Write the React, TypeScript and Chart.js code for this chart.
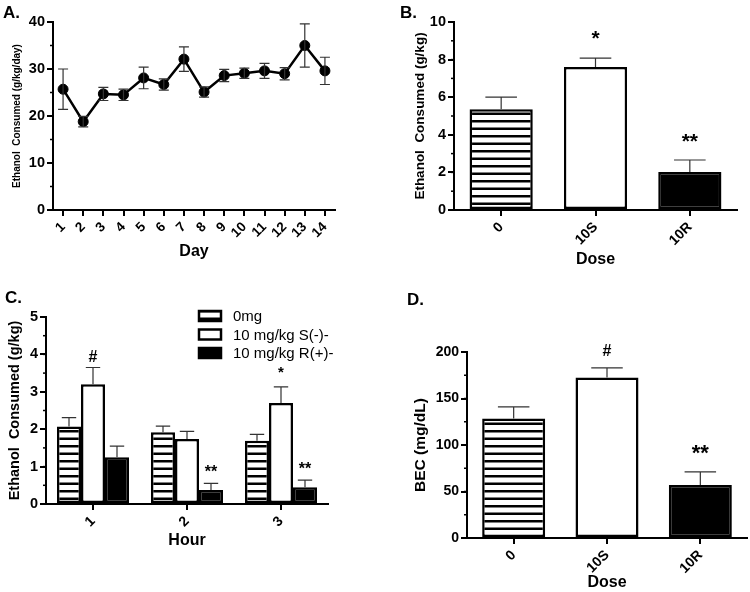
import React, { useEffect, useRef } from 'react';
import Chart from 'chart.js/auto';

const FONT = "'Liberation Sans', Arial, Helvetica, sans-serif";

// ---------- Panel A: daily intake ----------
const dayLabels = ['1', '2', '3', '4', '5', '6', '7', '8', '9', '10', '11', '12', '13', '14'];
const dailyMean = [25.7, 18.8, 24.7, 24.5, 28.1, 26.7, 32.1, 25.1, 28.6, 29.1, 29.6, 29.0, 35.0, 29.6];
const dailySem = [4.3, 1.1, 1.4, 1.2, 2.3, 1.2, 2.6, 1.1, 1.3, 1.1, 1.6, 1.3, 4.6, 2.9];

// ---------- Panel B: total intake by dose ----------
const doseLabels = ['0', '10S', '10R'];
const doseMean = [5.36, 7.6, 2.02];
const doseSem = [0.64, 0.48, 0.64];
const doseSig = ['', '*', '**'];

// ---------- Panel C: hourly intake ----------
const hourLabels = ['1', '2', '3'];
const hourSeries = ['0mg', '10 mg/kg S(-)-', '10 mg/kg R(+)-'];
const hourMean0 = [2.07, 1.92, 1.69];
const hourSem0 = [0.24, 0.16, 0.17];
const hourMeanS = [3.2, 1.74, 2.7];
const hourSemS = [0.45, 0.2, 0.43];
const hourSigS = ['#', '', '*'];
const hourMeanR = [1.25, 0.375, 0.45];
const hourSemR = [0.3, 0.175, 0.19];
const hourSigR = ['', '**', '**'];

// ---------- Panel D: BEC ----------
const becMean = [128.6, 172.5, 57.1];
const becSem = [12.4, 10.5, 14.0];
const becSig = ['', '#', '**'];

function makeHatch(): CanvasPattern | string {
  const c = document.createElement('canvas');
  c.width = 8;
  c.height = 15;
  const g = c.getContext('2d');
  if (!g) return '#fff';
  g.fillStyle = '#fff';
  g.fillRect(0, 0, 8, 15);
  g.fillStyle = '#000';
  g.fillRect(0, 0, 8, 2.5);
  g.fillRect(0, 7.5, 8, 2.5);
  const p = g.createPattern(c, 'repeat');
  return p || '#fff';
}

const errorBarPlugin = {
  id: 'errorBars',
  afterDatasetsDraw(chart: any, _args: any, opts: any) {
    const ctx = chart.ctx;
    const y = chart.scales.y;
    chart.data.datasets.forEach((ds: any, i: number) => {
      if (!ds.errors) return;
      const meta = chart.getDatasetMeta(i);
      meta.data.forEach((el: any, j: number) => {
        const v = ds.data[j];
        const e = ds.errors[j];
        const x = el.x;
        const yTop = y.getPixelForValue(v + e);
        const yBase = y.getPixelForValue(opts.both ? v - e : v);
        const cap = opts.capWidth ? opts.capWidth : el.width * opts.capRatio;
        ctx.save();
        ctx.strokeStyle = opts.color;
        ctx.lineWidth = opts.lineWidth;
        ctx.beginPath();
        ctx.moveTo(x, yBase);
        ctx.lineTo(x, yTop);
        ctx.moveTo(x - cap / 2, yTop);
        ctx.lineTo(x + cap / 2, yTop);
        if (opts.both) {
          ctx.moveTo(x - cap / 2, yBase);
          ctx.lineTo(x + cap / 2, yBase);
        }
        ctx.stroke();
        const s = ds.sig && ds.sig[j];
        if (s && opts.sig && opts.sig[s]) {
          const st = opts.sig[s];
          ctx.font = `bold ${st.size}px ${FONT}`;
          ctx.fillStyle = '#000';
          ctx.textAlign = 'center';
          ctx.textBaseline = 'alphabetic';
          const m = ctx.measureText(s);
          const mid = (m.actualBoundingBoxAscent - m.actualBoundingBoxDescent) / 2;
          ctx.fillText(s, x, yTop - st.offset + mid);
        }
        ctx.restore();
      });
    });
  },
};

const minorTickPlugin = {
  id: 'minorTicks',
  afterDraw(chart: any, _args: any, opts: any) {
    if (!opts || !opts.step) return;
    const y = chart.scales.y;
    const ctx = chart.ctx;
    const left = chart.chartArea.left;
    ctx.save();
    ctx.strokeStyle = '#000';
    ctx.lineWidth = 1.5;
    for (let v = y.min; v <= y.max + 1e-9; v += opts.step) {
      const py = y.getPixelForValue(v);
      ctx.beginPath();
      ctx.moveTo(left, py);
      ctx.lineTo(left - opts.length, py);
      ctx.stroke();
    }
    ctx.restore();
  },
};

const panelLabelPlugin = {
  id: 'panelLabel',
  afterDraw(chart: any, _args: any, opts: any) {
    if (!opts || !opts.text) return;
    const ctx = chart.ctx;
    ctx.save();
    ctx.font = `bold 17px ${FONT}`;
    ctx.fillStyle = '#000';
    ctx.textAlign = 'left';
    ctx.textBaseline = 'alphabetic';
    ctx.fillText(opts.text, opts.x, opts.y);
    ctx.restore();
  },
};

const boxLegendPlugin = {
  id: 'boxLegend',
  afterDraw(chart: any, _args: any, opts: any) {
    if (!opts || !opts.show) return;
    const ctx = chart.ctx;
    ctx.save();
    chart.data.datasets.forEach((ds: any, i: number) => {
      const cy = opts.y + i * opts.rowGap;
      ctx.fillStyle = ds.backgroundColor;
      ctx.fillRect(opts.x, cy - opts.boxH / 2, opts.boxW, opts.boxH);
      ctx.strokeStyle = '#000';
      ctx.lineWidth = 2.5;
      ctx.strokeRect(opts.x, cy - opts.boxH / 2, opts.boxW, opts.boxH);
      ctx.fillStyle = '#000';
      ctx.font = `${opts.fontSize}px ${FONT}`;
      ctx.textAlign = 'left';
      ctx.textBaseline = 'middle';
      ctx.fillText(ds.label, opts.x + opts.boxW + opts.textGap, cy + 1);
    });
    ctx.restore();
  },
};

function yAxis(o: any) {
  return {
    min: o.min,
    max: o.max,
    ticks: {
      stepSize: o.step,
      color: '#000',
      padding: 2,
      font: { family: FONT, size: o.tickSize, weight: 'bold' },
    },
    grid: { drawOnChartArea: false, drawTicks: true, tickLength: 6, color: '#000', lineWidth: 2 },
    border: { display: true, color: '#000', width: 2 },
    title: {
      display: true,
      text: o.title,
      color: '#000',
      font: { family: FONT, size: o.titleSize, weight: 'bold' },
      padding: { top: o.titlePad, bottom: 0 },
    },
    afterFit: (s: any) => {
      s.width = o.width;
    },
  };
}

function xAxis(o: any) {
  return {
    type: 'category',
    offset: true,
    ticks: {
      color: '#000',
      maxRotation: 45,
      minRotation: 45,
      autoSkip: false,
      padding: 3,
      font: { family: FONT, size: o.tickSize, weight: 'bold' },
    },
    grid: { offset: false, drawOnChartArea: false, drawTicks: true, tickLength: 6, color: '#000', lineWidth: 2 },
    border: { display: true, color: '#000', width: 2 },
    title: {
      display: true,
      text: o.title,
      color: '#000',
      font: { family: FONT, size: o.titleSize, weight: 'bold' },
      padding: { top: 0, bottom: o.titlePad },
    },
    afterFit: (s: any) => {
      s.height = o.height;
    },
  };
}

const basePlugins = [errorBarPlugin, minorTickPlugin, panelLabelPlugin, boxLegendPlugin];

function configA(): any {
  return {
    type: 'line',
    data: {
      labels: dayLabels,
      datasets: [
        {
          label: 'Ethanol',
          data: dailyMean,
          errors: dailySem,
          borderColor: '#000',
          borderWidth: 2.5,
          pointRadius: 5,
          pointBackgroundColor: '#000',
          pointBorderColor: '#000',
          pointBorderWidth: 1,
          tension: 0,
          fill: false,
        },
      ],
    },
    options: {
      responsive: false,
      animation: false,
      layout: { padding: { left: 0, top: 22, right: 40, bottom: 0 } },
      scales: {
        x: xAxis({ height: 70, title: 'Day', titleSize: 16, titlePad: 19, tickSize: 13.5 }),
        y: yAxis({ min: 0, max: 40, step: 10, width: 53, title: 'Ethanol  Consumed (g/kg/day)', titleSize: 10, titlePad: 11, tickSize: 14.5 }),
      },
      plugins: {
        legend: { display: false },
        tooltip: { enabled: false },
        errorBars: { both: true, capWidth: 10, color: '#333', lineWidth: 1.2 },
        minorTicks: { step: 5, length: 3 },
        panelLabel: { text: 'A.', x: 3, y: 18 },
      },
    },
    plugins: basePlugins,
  };
}

function configB(): any {
  const hatch = makeHatch();
  return {
    type: 'bar',
    data: {
      labels: doseLabels,
      datasets: [
        {
          label: 'Ethanol',
          data: doseMean,
          errors: doseSem,
          sig: doseSig,
          backgroundColor: [hatch, '#fff', '#000'],
          borderColor: '#000',
          borderWidth: 2.5,
          borderSkipped: false,
          barPercentage: 0.67,
          categoryPercentage: 1,
        },
      ],
    },
    options: {
      responsive: false,
      animation: false,
      layout: { padding: { left: 0, top: 22, right: 13, bottom: 0 } },
      scales: {
        x: xAxis({ height: 70, title: 'Dose', titleSize: 16, titlePad: 11, tickSize: 14 }),
        y: yAxis({ min: 0, max: 10, step: 2, width: 79, title: 'Ethanol  Consumed (g/kg)', titleSize: 13.5, titlePad: 37, tickSize: 14.5 }),
      },
      plugins: {
        legend: { display: false },
        tooltip: { enabled: false },
        errorBars: {
          both: false,
          capRatio: 0.5,
          color: '#333',
          lineWidth: 1.2,
          sig: { '*': { size: 21, offset: 23 }, '**': { size: 21, offset: 22 } },
        },
        minorTicks: { step: 1, length: 3 },
        panelLabel: { text: 'B.', x: 25, y: 18 },
      },
    },
    plugins: basePlugins,
  };
}

function configC(): any {
  const hatch = makeHatch();
  const common = {
    borderColor: '#000',
    borderWidth: 2.5,
    borderSkipped: false,
    barPercentage: 1,
    categoryPercentage: 0.766,
  };
  return {
    type: 'bar',
    data: {
      labels: hourLabels,
      datasets: [
        { ...common, label: hourSeries[0], data: hourMean0, errors: hourSem0, backgroundColor: hatch },
        { ...common, label: hourSeries[1], data: hourMeanS, errors: hourSemS, sig: hourSigS, backgroundColor: '#fff' },
        { ...common, label: hourSeries[2], data: hourMeanR, errors: hourSemR, sig: hourSigR, backgroundColor: '#000' },
      ],
    },
    options: {
      responsive: false,
      animation: false,
      layout: { padding: { left: 0, top: 37, right: 47, bottom: 0 } },
      scales: {
        x: xAxis({ height: 88, title: 'Hour', titleSize: 16, titlePad: 42, tickSize: 14 }),
        y: yAxis({ min: 0, max: 5, step: 1, width: 46, title: 'Ethanol  Consumed (g/kg)', titleSize: 14.5, titlePad: 6, tickSize: 14.5 }),
      },
      plugins: {
        legend: { display: false },
        tooltip: { enabled: false },
        errorBars: {
          both: false,
          capRatio: 0.6,
          color: '#333',
          lineWidth: 1.2,
          sig: { '#': { size: 16, offset: 11 }, '*': { size: 15, offset: 17 }, '**': { size: 16, offset: 15 } },
        },
        minorTicks: { step: 0.5, length: 3 },
        panelLabel: { text: 'C.', x: 5, y: 23 },
        boxLegend: { show: true, x: 199, y: 36, rowGap: 18.5, boxW: 22, boxH: 10, textGap: 12, fontSize: 15 },
      },
    },
    plugins: basePlugins,
  };
}

function configD(): any {
  const hatch = makeHatch();
  return {
    type: 'bar',
    data: {
      labels: doseLabels,
      datasets: [
        {
          label: 'BEC',
          data: becMean,
          errors: becSem,
          sig: becSig,
          backgroundColor: [hatch, '#fff', '#000'],
          borderColor: '#000',
          borderWidth: 2.5,
          borderSkipped: false,
          barPercentage: 0.675,
          categoryPercentage: 1,
        },
      ],
    },
    options: {
      responsive: false,
      animation: false,
      layout: { padding: { left: 0, top: 72, right: 3, bottom: 0 } },
      scales: {
        x: xAxis({ height: 54, title: 'Dose', titleSize: 16, titlePad: 0, tickSize: 14 }),
        y: yAxis({ min: 0, max: 200, step: 50, width: 92, title: 'BEC (mg/dL)', titleSize: 15.5, titlePad: 36, tickSize: 14 }),
      },
      plugins: {
        legend: { display: false },
        tooltip: { enabled: false },
        errorBars: {
          both: false,
          capRatio: 0.5,
          color: '#333',
          lineWidth: 1.2,
          sig: { '#': { size: 16, offset: 18 }, '**': { size: 22, offset: 22 } },
        },
        minorTicks: { step: 25, length: 3 },
        panelLabel: { text: 'D.', x: 32, y: 25 },
      },
    },
    plugins: basePlugins,
  };
}

function ChartCanvas(props: { make: () => any; left: number; top: number; width: number; height: number }) {
  const ref = useRef<HTMLCanvasElement>(null);
  useEffect(() => {
    if (!ref.current) return;
    const chart = new Chart(ref.current, props.make());
    return () => chart.destroy();
  }, []);
  return (
    <canvas
      ref={ref}
      width={props.width}
      height={props.height}
      style={{ position: 'absolute', left: props.left, top: props.top, width: props.width, height: props.height }}
    />
  );
}

export default function App() {
  return (
    <div style={{ position: 'absolute', left: 0, top: 0, width: 750, height: 592, background: '#fff', overflow: 'hidden' }}>
      <ChartCanvas make={configA} left={0} top={0} width={375} height={280} />
      <ChartCanvas make={configB} left={375} top={0} width={375} height={280} />
      <ChartCanvas make={configC} left={0} top={280} width={375} height={312} />
      <ChartCanvas make={configD} left={375} top={280} width={375} height={312} />
    </div>
  );
}
